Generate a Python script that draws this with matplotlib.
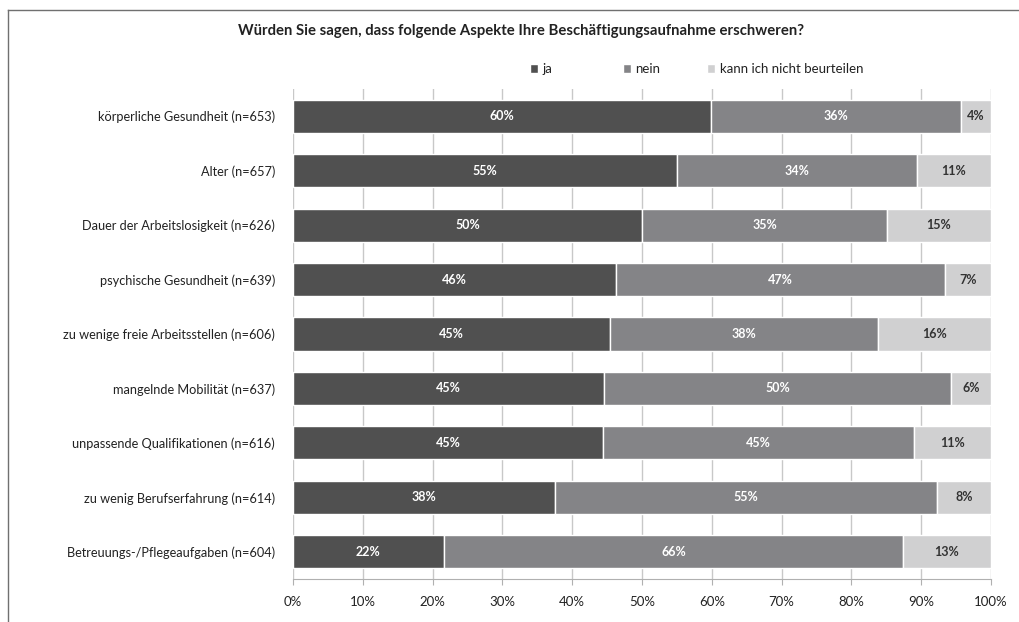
import numpy as np
import matplotlib.pyplot as plt
from matplotlib.lines import Line2D

# data (top to bottom)
categories = [
    'körperliche Gesundheit (n=653)',
    'Alter (n=657)',
    'Dauer der Arbeitslosigkeit (n=626)',
    'psychische Gesundheit (n=639)',
    'zu wenige freie Arbeitsstellen (n=606)',
    'mangelnde Mobilität (n=637)',
    'unpassende Qualifikationen (n=616)',
    'zu wenig Berufserfahrung (n=614)',
    'Betreuungs-/Pflegeaufgaben (n=604)',
]
ja = [59.9, 55.0, 50.0, 46.3, 45.4, 44.6, 44.4, 37.5, 21.6]
nein = [35.8, 34.4, 35.1, 47.1, 38.4, 49.7, 44.6, 54.8, 65.8]
kann = [4.3, 10.6, 14.9, 6.6, 16.2, 5.7, 11.0, 7.7, 12.6]
ja_lbl = ['60%', '55%', '50%', '46%', '45%', '45%', '45%', '38%', '22%']
nein_lbl = ['36%', '34%', '35%', '47%', '38%', '50%', '45%', '55%', '66%']
kann_lbl = ['4%', '11%', '15%', '7%', '16%', '6%', '11%', '8%', '13%']
series_names = ['ja', 'nein', 'kann ich nicht beurteilen']

plt.rcParams['font.family'] = ['Lato', 'DejaVu Sans']

fig = plt.figure(figsize=(10.19, 6.22), dpi=100)
ax = fig.add_axes([293 / 1019, 1 - 579 / 622, 698 / 1019, 490 / 622])

y = np.arange(len(categories))
colors = ['#505050', '#848487', '#d0d0d1']
txt_colors = ['white', 'white', '#333333']
left = np.zeros(len(categories))
handles = []
for vals, lbls, col, tc, name in zip([ja, nein, kann], [ja_lbl, nein_lbl, kann_lbl],
                                     colors, txt_colors, series_names):
    bars = ax.barh(y, vals, left=left, height=0.61, color=col, edgecolor='white',
                   linewidth=1.0, label=name, zorder=3)
    handles.append(bars)
    for b, t in zip(bars, lbls):
        ax.text(b.get_x() + b.get_width() / 2, b.get_y() + b.get_height() / 2, t,
                ha='center', va='center', color=tc, fontsize=9, fontweight='bold', zorder=4)
    left += np.array(vals)

ax.set_xlim(0, 100)
ax.set_ylim(len(categories) - 0.5, -0.5)
ax.set_yticks(y)
ax.set_yticklabels(categories, fontsize=9.2, color='#222222')
ax.set_xticks(np.arange(0, 101, 10))
ax.set_xticklabels([f'{v}%' for v in range(0, 101, 10)], fontsize=9.5, color='#222222')
ax.xaxis.grid(True, color='#c8c8c8', linewidth=1.0, zorder=0)
ax.tick_params(axis='y', length=0, pad=13)
ax.tick_params(axis='x', length=4, color='#b0b0b0', pad=8)
for s in ['top', 'right', 'left']:
    ax.spines[s].set_visible(False)
ax.spines['bottom'].set_color('#b0b0b0')

fig.text(521 / 1019, 1 - 31 / 622,
         'Würden Sie sagen, dass folgende Aspekte Ihre Beschäftigungsaufnahme erschweren?',
         ha='center', va='center', fontsize=10.7, fontweight='bold', color='#222222')

# legend entries placed one by one (spacing in the original is uneven)
leg_x = [530, 623, 707]
for h, name, lx in zip(handles, series_names, leg_x):
    leg = fig.legend([h], [name], loc='center left',
                     bbox_to_anchor=(lx / 1019, 1 - 69 / 622), frameon=False,
                     fontsize=9.5, handlelength=0.6, handleheight=0.6,
                     handletextpad=0.35, borderpad=0, borderaxespad=0)
    leg.get_texts()[0].set_color('#222222')

# partial frame around the chart (top and left edges)
fig.add_artist(Line2D([8 / 1019, 1], [1 - 10 / 622, 1 - 10 / 622],
                      color='#707070', linewidth=1.0))
fig.add_artist(Line2D([8 / 1019, 8 / 1019], [0, 1 - 10 / 622],
                      color='#707070', linewidth=1.0))

fig.savefig('out.png', dpi=100, facecolor='white')
